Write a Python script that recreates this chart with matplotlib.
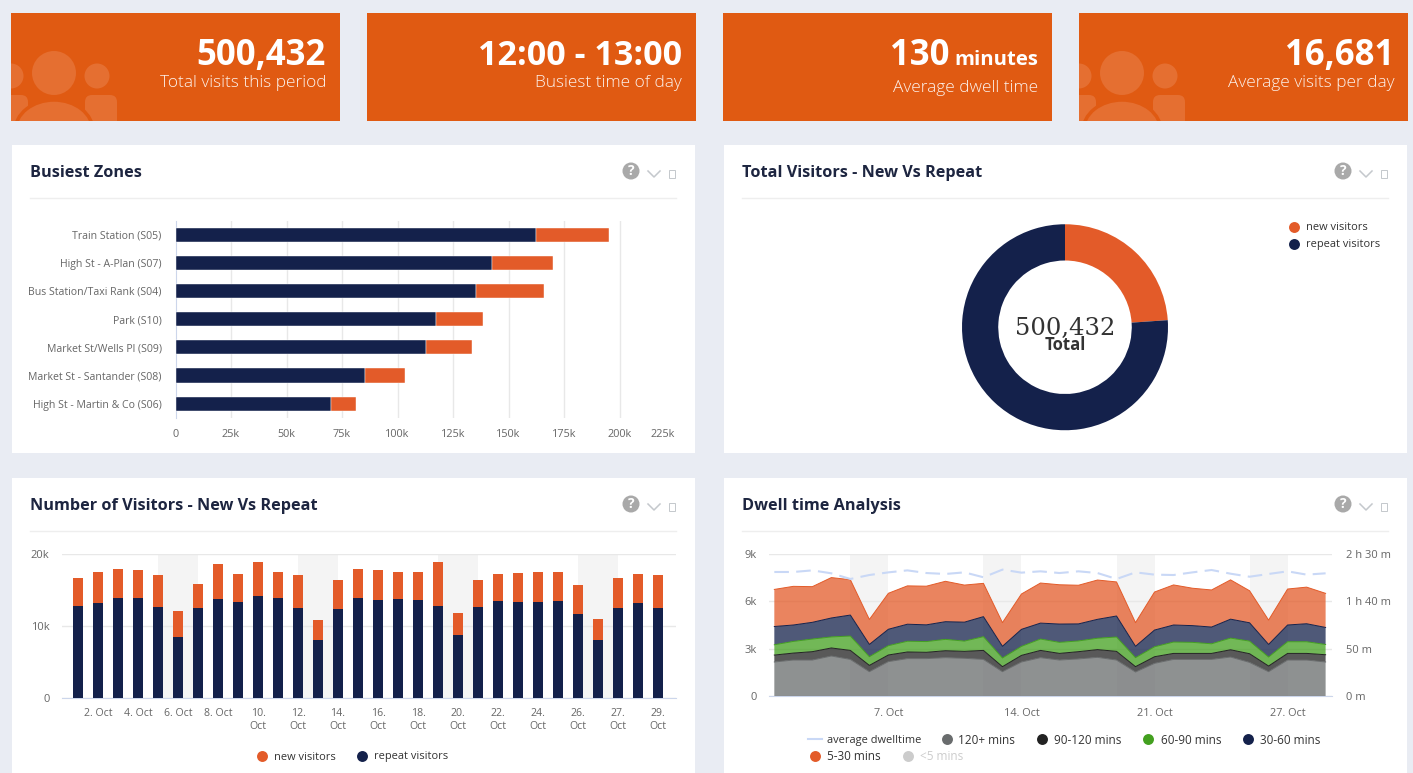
import numpy as np
import matplotlib
matplotlib.use("Agg")
import matplotlib.pyplot as plt
from matplotlib.patches import Rectangle, Ellipse, FancyBboxPatch, Circle

W, H = 1413, 773

# data
zones = ["Train Station (S05)", "High St - A-Plan (S07)", "Bus Station/Taxi Rank (S04)", "Park (S10)",
         "Market St/Wells Pl (S09)", "Market St - Santander (S08)", "High St - Martin & Co (S06)"]
zone_repeat = [162.6, 142.4, 135.5, 117.2, 112.8, 85.5, 70.0]
zone_new = [32.8, 27.8, 30.6, 21.4, 20.8, 17.9, 11.2]
zone_ticks = [0, 25, 50, 75, 100, 125, 150, 175, 200, 225]
zone_ticklabels = ["0", "25k", "50k", "75k", "100k", "125k", "150k", "175k", "200k", "225k"]

donut_values = [119600, 380832]

daily_repeat = [12.84, 13.26, 13.95, 13.86, 12.6, 8.5, 12.47, 13.72, 13.4, 14.1,
                13.86, 12.47, 8.0, 12.33, 13.86, 13.6, 13.7, 13.67, 12.84, 8.73,
                12.7, 13.49, 13.35, 13.35, 13.49, 11.73, 8.08, 12.47, 13.26, 12.47]
daily_new = [3.79, 4.2, 4.02, 3.88, 4.5, 3.6, 3.37, 4.88, 3.8, 4.75,
             3.6, 4.63, 2.85, 4.02, 4.11, 4.14, 3.76, 3.79, 6.01, 3.14,
             3.65, 3.74, 4.02, 4.11, 3.97, 4.02, 2.91, 4.16, 3.97, 4.63]
daily_tick_idx = [1, 3, 5, 7, 9, 11, 13, 15, 17, 19, 21, 23, 25, 27, 29]
daily_ticklabels = ["2. Oct", "4. Oct", "6. Oct", "8. Oct", "10.\nOct", "12.\nOct", "14.\nOct", "16.\nOct",
                    "18.\nOct", "20.\nOct", "22.\nOct", "24.\nOct", "26.\nOct", "27.\nOct", "29.\nOct"]
weekends = [(4, 6), (11, 13), (18, 20), (25, 27)]

dwell_120 = [2.155, 2.28, 2.28, 2.535, 2.32, 1.54, 2.18, 2.37, 2.37, 2.43, 2.39, 2.32, 1.54, 2.155, 2.43,
             2.28, 2.35, 2.45, 2.28, 1.52, 2.07, 2.32, 2.32, 2.32, 2.47, 2.13, 1.54, 2.28, 2.28, 2.155]
dwell_90 = [.44, .44, .53, .51, .57, .40, .42, .42, .40, .44, .44, .57, .32, .42, .46,
            .42, .46, .49, .55, .34, .42, .38, .38, .38, .46, .55, .36, .42, .42, .46]
dwell_60 = [.65, .74, .80, .70, .91, .55, .59, .68, .68, .72, .65, .87, .55, .57, .72,
            .70, .68, .72, .91, .57, .63, .72, .70, .61, .74, .80, .57, .74, .74, .65]
dwell_30 = [1.16, 1.04, 1.06, 1.20, 1.33, .78, 1.04, 1.08, 1.06, 1.12, 1.20, 1.27, .74, 1.08, 1.01,
            1.16, 1.08, 1.20, 1.33, .72, 1.06, 1.08, 1.06, 1.06, 1.20, 1.16, .80, 1.06, 1.14, 1.08]
dwell_5 = [2.35, 2.45, 2.26, 2.56, 2.24, 1.58, 2.28, 2.43, 2.45, 2.56, 2.35, 2.11, 1.50, 2.24, 2.54,
           2.49, 2.45, 2.49, 2.16, 1.50, 2.41, 2.54, 2.37, 2.35, 2.49, 2.03, 1.54, 2.28, 2.32, 2.16]
avg_dwell = [131, 131, 132.7, 129.6, 123.6, 127.8, 130.6, 132.7, 129.9, 128.9, 130.6, 125.4, 133.5, 130.3, 131.7,
             129.9, 131.7, 129.9, 123.6, 130.6, 128.2, 127.8, 130.6, 133.1, 129.2, 126, 128.9, 131.7, 128.2, 129.6]
dwell_tick_idx = [6, 13, 20, 27]
dwell_ticklabels = ["7. Oct", "14. Oct", "21. Oct", "27. Oct"]

# colours
BG = "#e9ecf3"
CARD = "#e05a12"
ICON = "#e56f31"
NAVY = "#14214b"
ORANGE = "#e35b29"
GREY = "#696c6d"
BLACK = "#222222"
GREEN = "#43a01f"
AVG = "#c9d8f6"
TITLE = "#1d2540"
TICK = "#666666"
GRID = "#e8e8e8"
AXIS = "#ccd6eb"
BAND = "#f4f4f4"

plt.rcParams["font.family"] = ["Open Sans", "DejaVu Sans"]

fig = plt.figure(figsize=(W / 100, H / 100), dpi=100, facecolor=BG)

# overlay in pixel coordinates for the cards, panels and legends
bgax = fig.add_axes([0, 0, 1, 1], zorder=0)
bgax.set_xlim(0, W)
bgax.set_ylim(H, 0)
bgax.axis("off")


def px_axes(x0, y0, x1, y1):
    a = fig.add_axes([x0 / W, 1 - y1 / H, (x1 - x0) / W, (y1 - y0) / H], zorder=1)
    a.patch.set_alpha(0)
    for s in a.spines.values():
        s.set_visible(False)
    return a


def draw_icon(x, clip):
    parts = [Ellipse((x + 0, 76), 25, 25, fc=ICON, ec="none"),
             Ellipse((x + 86, 76), 25, 25, fc=ICON, ec="none"),
             FancyBboxPatch((x - 20, 95), 37, 40, boxstyle="round,pad=0,rounding_size=7", fc=ICON, ec="none"),
             FancyBboxPatch((x + 74, 95), 32, 40, boxstyle="round,pad=0,rounding_size=7", fc=ICON, ec="none"),
             Ellipse((x + 43, 73), 44, 44, fc=ICON, ec="none"),
             Ellipse((x + 43, 131), 78, 62, fc=ICON, ec=CARD, lw=2.5)]
    for p in parts:
        bgax.add_patch(p)
        p.set_clip_path(clip)


cards = [(11, "500,432", "Total visits this period", True, 25),
         (367, "12:00 - 13:00", "Busiest time of day", False, 24.5),
         (723, "130", "Average dwell time", False, 25),
         (1079, "16,681", "Average visits per day", True, 25)]
for x, big, small, icon, size in cards:
    r = Rectangle((x, 13), 329, 108, fc=CARD, ec="none")
    bgax.add_patch(r)
    if icon:
        draw_icon(x, r)
    if big == "130":
        bgax.text(x + 227, 65, big, color="white", fontsize=size, fontweight="bold", ha="right", va="baseline")
        bgax.text(x + 315, 65, "minutes", color="white", fontsize=14.6, fontweight="bold", ha="right", va="baseline")
        bgax.text(x + 315, 92, small, color="white", fontsize=12.4, fontweight="light", ha="right", va="baseline", alpha=0.92)
    else:
        bgax.text(x + 315, 65, big, color="white", fontsize=size, fontweight="bold", ha="right", va="baseline")
        bgax.text(x + 315, 87, small, color="white", fontsize=12.4, fontweight="light", ha="right", va="baseline", alpha=0.92)

panels = [(12, 145, 683, 308, "Busiest Zones"),
          (724, 145, 683, 308, "Total Visitors - New Vs Repeat"),
          (12, 478, 683, 295, "Number of Visitors - New Vs Repeat"),
          (724, 478, 683, 295, "Dwell time Analysis")]
for x, y, w, h, title in panels:
    bgax.add_patch(Rectangle((x, y), w, h, fc="white", ec="none"))
    bgax.text(x + 18, y + 28, title, color=TITLE, fontsize=11.7, fontweight="bold", va="center", ha="left")
    bgax.plot([x + 18, x + 664], [y + 53, y + 53], color="#eeeeee", lw=1)
    # question mark, chevron and the empty glyph box
    bgax.add_patch(Circle((x + 619, y + 26), 8.5, fc="#a9a9a9", ec="none"))
    bgax.text(x + 619, y + 26, "?", color="white", fontsize=10, fontweight="bold", ha="center", va="center")
    bgax.plot([x + 636, x + 642, x + 648], [y + 26, y + 32, y + 26], color="#c4c8cc", lw=1.1)
    bgax.add_patch(Rectangle((x + 657, y + 25), 6, 7.5, fc="none", ec="#c4c8cc", lw=0.7))


def legend_dot(x, y, color):
    bgax.scatter([x], [y], s=62, color=color, linewidths=0)


def legend_text(x, y, s, color="#333333", size=7.9):
    bgax.text(x, y + 1, s, color=color, fontsize=size, ha="left", va="center")


# Busiest Zones
ax = px_axes(175.5, 220.5, 675, 417.8)
ypos = np.arange(len(zones))
ax.barh(ypos, zone_repeat, height=0.5, color=NAVY, edgecolor="white", linewidth=0.3, zorder=3)
ax.barh(ypos, zone_new, left=zone_repeat, height=0.5, color=ORANGE, edgecolor="white", linewidth=0.3, zorder=3)
ax.set_ylim(len(zones) - 0.5, -0.5)
ax.set_xlim(0, 225)
ax.set_yticks(ypos)
ax.set_yticklabels(zones)
ax.set_xticks(zone_ticks)
ax.set_xticklabels(zone_ticklabels)
ax.get_xticklabels()[-1].set_ha("right")
for t in zone_ticks[1:-1]:
    ax.axvline(t, color=GRID, lw=1, zorder=1)
ax.spines["left"].set_visible(True)
ax.spines["left"].set_color(AXIS)
ax.tick_params(axis="y", length=0, pad=10, labelsize=7.6, labelcolor=TICK)
ax.tick_params(axis="x", length=0, pad=8, labelsize=7.8, labelcolor=TICK)

# Donut
ax = px_axes(962, 224, 1168, 430.5)
ax.pie(donut_values, colors=[ORANGE, NAVY], startangle=90, counterclock=False, radius=1,
       wedgeprops=dict(width=0.352, linewidth=0))
ax.set_xlim(-1, 1)
ax.set_ylim(-1, 1)
bgax.text(1065, 328, "500,432", color="#333333", fontsize=17.5, family="DejaVu Serif", ha="center", va="center")
bgax.text(1065, 344.5, "Total", color="#333333", fontsize=12, fontweight="bold", ha="center", va="center", zorder=5)
legend_dot(1294, 227, ORANGE)
legend_text(1306.5, 227, "new visitors")
legend_dot(1294, 244, NAVY)
legend_text(1306.5, 244, "repeat visitors")

# Number of Visitors
ax = px_axes(62, 554, 676, 698)
days = np.arange(len(daily_repeat))
for a, b in weekends:
    ax.axvspan(a, b, color=BAND, lw=0, zorder=0)
ax.bar(days, daily_repeat, width=0.5, color=NAVY, zorder=3)
ax.bar(days, daily_new, bottom=daily_repeat, width=0.5, color=ORANGE, zorder=3)
ax.set_xlim(-0.8, 29.9)
ax.set_ylim(0, 20)
ax.set_yticks([0, 10, 20])
ax.set_yticklabels(["0", "10k", "20k"])
ax.set_xticks(daily_tick_idx)
ax.set_xticklabels(daily_ticklabels, linespacing=1.15)
ax.grid(axis="y", color=GRID, lw=1, zorder=1)
ax.spines["bottom"].set_visible(True)
ax.spines["bottom"].set_color(AXIS)
ax.tick_params(axis="y", length=0, pad=9, labelsize=8, labelcolor=TICK)
ax.tick_params(axis="x", length=0, pad=7.5, labelsize=7.6, labelcolor=TICK)
for lab in ax.get_xticklabels():
    lab.set_va("top")
legend_dot(262, 756, ORANGE)
legend_text(274, 756, "new visitors")
legend_dot(362, 756, NAVY)
legend_text(374, 756, "repeat visitors")

# Dwell time
ax = px_axes(769, 554, 1331.7, 696)
xs = np.arange(len(dwell_120))
for a, b in weekends:
    ax.axvspan(a, b, color=BAND, lw=0, zorder=0)
layers = [dwell_120, dwell_90, dwell_60, dwell_30, dwell_5]
layer_colors = [GREY, BLACK, GREEN, NAVY, ORANGE]
ax.stackplot(xs, layers, colors=layer_colors, alpha=0.75, linewidth=0, zorder=3)
tops = np.cumsum(layers, axis=0)
for top, c in zip(tops, layer_colors):
    ax.plot(xs, top, color=c, lw=0.7, zorder=4)
ax.set_xlim(-0.28, 29.32)
ax.set_ylim(0, 9)
ax.set_yticks([0, 3, 6, 9])
ax.set_yticklabels(["0", "3k", "6k", "9k"])
ax.set_xticks(dwell_tick_idx)
ax.set_xticklabels(dwell_ticklabels)
ax.grid(axis="y", color=GRID, lw=1, zorder=1)
ax.spines["bottom"].set_visible(True)
ax.spines["bottom"].set_color(AXIS)
ax.tick_params(axis="y", length=0, pad=9, labelsize=8, labelcolor=TICK)
ax.tick_params(axis="x", length=0, pad=8.5, labelsize=7.8, labelcolor=TICK)

ax2 = ax.twinx()
ax2.patch.set_alpha(0)
for s in ax2.spines.values():
    s.set_visible(False)
ax2.plot(xs, avg_dwell, color=AVG, lw=1.5, ls=(0, (7, 3.5)), zorder=5)
ax2.set_ylim(0, 150)
ax2.set_yticks([0, 50, 100, 150])
ax2.set_yticklabels(["0 m", "50 m", "1 h 40 m", "2 h 30 m"])
ax2.tick_params(axis="y", length=0, pad=10, labelsize=8, labelcolor=TICK)

bgax.plot([808, 822], [739, 739], color=AVG, lw=1.5)
legend_text(827, 739, "average dwelltime")
legend_dot(947, 739, GREY)
legend_text(958, 739, "120+ mins", size=8.5)
legend_dot(1042, 739, BLACK)
legend_text(1054, 739, "90-120 mins", size=8.5)
legend_dot(1148, 739, GREEN)
legend_text(1161, 739, "60-90 mins", size=8.5)
legend_dot(1248, 739, NAVY)
legend_text(1260, 739, "30-60 mins", size=8.5)
legend_dot(815, 756, ORANGE)
legend_text(827, 756, "5-30 mins", size=8.5)
legend_dot(908, 756, "#cccccc")
legend_text(920, 756, "<5 mins", color="#cccccc", size=8.5)

fig.savefig("out.png", dpi=100, facecolor=BG)
